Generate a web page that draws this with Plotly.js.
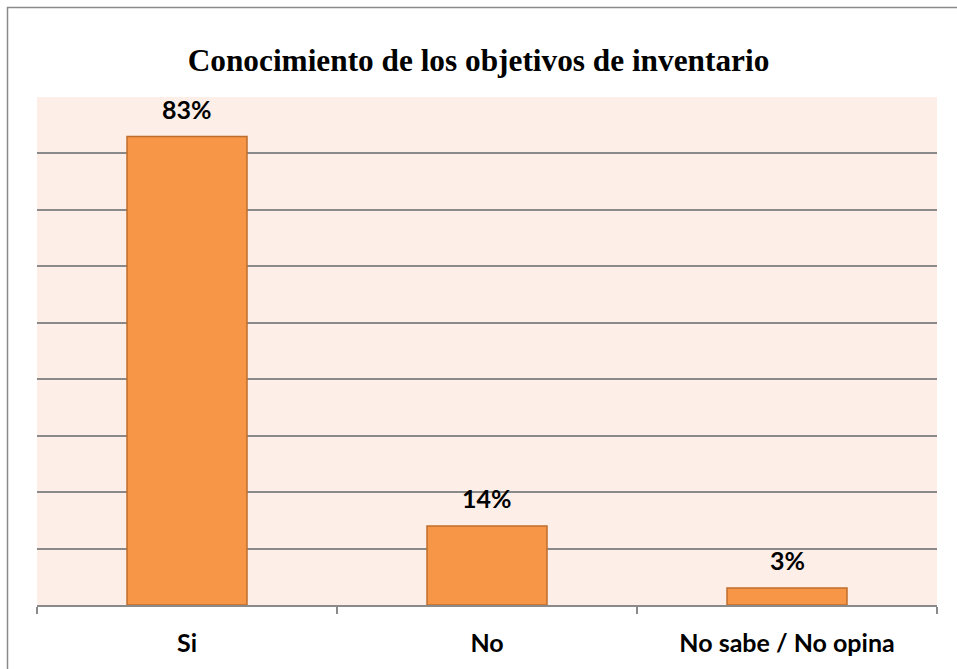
<!DOCTYPE html>
<html>
<head>
<meta charset="utf-8">
<script src="https://cdn.plot.ly/plotly-3.0.1.min.js"></script>
<style>html,body{margin:0;padding:0;background:#fff;}#chart{width:957px;height:669px;}</style>
</head>
<body>
<div id="chart"></div>
<script>
const categories = ["Si", "No", "No sabe / No opina"];
const values = [83, 14, 3];
const valueLabels = ["83%", "14%", "3%"];
const chartTitle = "Conocimiento de los objetivos de inventario";

const trace = {
  type: "bar",
  x: categories,
  y: values,
  width: 0.4,
  marker: { color: "#F79646", line: { color: "#BE6E2C", width: 1.5 } },
  hoverinfo: "skip"
};

const annotations = categories.map((c, i) => ({
  x: c, y: values[i], xref: "x", yref: "y",
  text: "<b>" + valueLabels[i] + "</b>",
  showarrow: false, yanchor: "bottom", yshift: 11,
  font: { family: "Lato, 'Open Sans', sans-serif", size: 25, color: "#000" }
}));

const layout = {
  width: 957, height: 669,
  margin: { l: 37, r: 20, t: 97, b: 64, pad: 0 },
  paper_bgcolor: "#ffffff",
  plot_bgcolor: "#FDEEE8",
  showlegend: false,
  title: {
    text: "<b>" + chartTitle + "</b>",
    font: { family: "'Liberation Serif', 'Times New Roman', serif", size: 31.3, color: "#000" },
    x: 0.5, xref: "container", xanchor: "center",
    y: 1 - 60 / 669, yref: "container", yanchor: "middle"
  },
  xaxis: {
    type: "category",
    showline: true, linecolor: "#8A8A8A", linewidth: 2,
    ticks: "outside", tickson: "boundaries", ticklen: 7, tickcolor: "#8A8A8A", tickwidth: 2,
    ticklabelstandoff: 15,
    tickfont: { family: "Lato, 'Open Sans', sans-serif", size: 25, color: "#000", weight: "bold" },
    showgrid: false, zeroline: false, fixedrange: true
  },
  yaxis: {
    range: [0, 90], dtick: 10, tick0: 0,
    showticklabels: false, ticks: "",
    showgrid: true, gridcolor: "#8A8A8A", gridwidth: 2,
    zeroline: false, showline: false, fixedrange: true
  },
  annotations: annotations,
  shapes: [{
    type: "rect", xref: "paper", yref: "paper",
    x0: (7.5 - 37) / 900, x1: 1.1, y0: -0.2, y1: (605 - 7.5) / 508,
    line: { color: "#8A8A8A", width: 1.5 }, fillcolor: "rgba(0,0,0,0)", layer: "above"
  }]
};

Plotly.newPlot("chart", [trace], layout, { displayModeBar: false, staticPlot: true });
</script>
</body>
</html>
